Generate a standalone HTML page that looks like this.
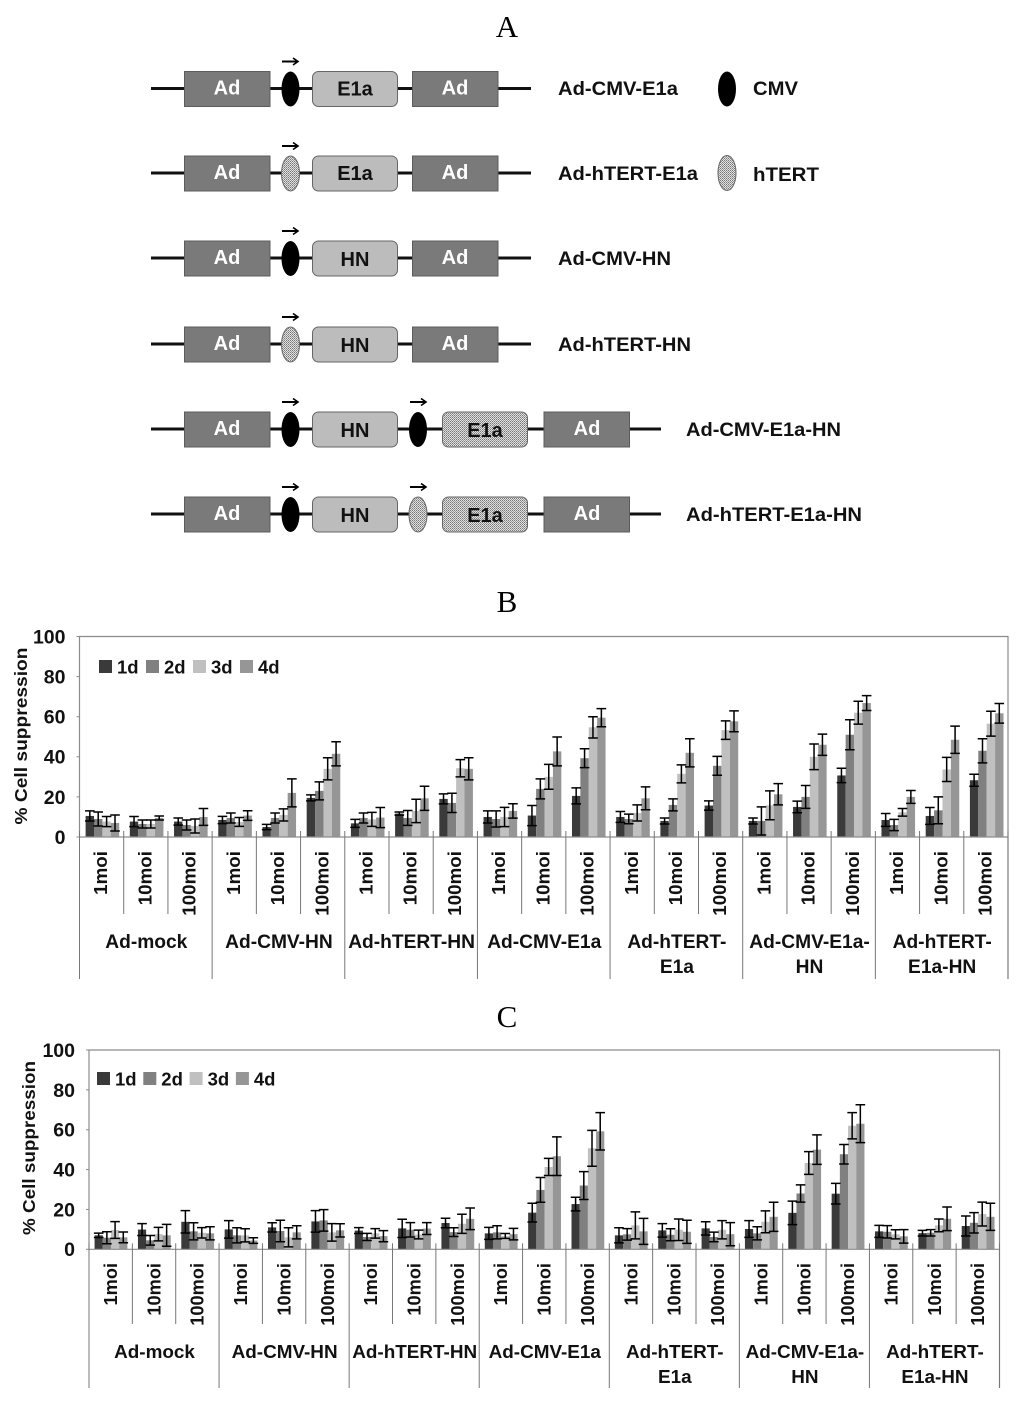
<!DOCTYPE html>
<html>
<head>
<meta charset="utf-8">
<title>Adenovirus constructs and cell suppression</title>
<style>
html,body{margin:0;padding:0;background:#fff;}
svg{display:block;filter:blur(0.35px);}
text{font-family:"Liberation Sans",sans-serif;font-weight:bold;fill:#111;}
.panel{font-family:"Liberation Serif",serif;font-weight:normal;font-size:31px;text-anchor:middle;fill:#000;}
.ad{fill:#7a7a7a;stroke:#5c5c5c;stroke-width:1;}
.adt{fill:#fff;font-size:20px;text-anchor:middle;}
.gene{fill:#bcbcbc;stroke:#666;stroke-width:1;}
.stip{fill:url(#stipple);stroke:#666;stroke-width:1;}
.gt{font-size:20px;text-anchor:middle;}
.bb{stroke:#111;stroke-width:3;}
.arr{stroke:#000;stroke-width:2;fill:none;}
.nm{font-size:19px;}
</style>
</head>
<body>
<svg id="fig" xmlns="http://www.w3.org/2000/svg" width="1024" height="1406" viewBox="0 0 1024 1406">
<defs>
<pattern id="stipple" width="2" height="2" patternUnits="userSpaceOnUse">
<rect width="2" height="2" fill="#e0e0e0"/><rect width="1" height="1" fill="#777"/><rect x="1" y="1" width="1" height="1" fill="#999"/>
</pattern>
<marker id="ah" markerUnits="userSpaceOnUse" markerWidth="9" markerHeight="9" refX="6" refY="4" orient="auto"><path d="M1,0.5 L6,4 L1,7.5" fill="none" stroke="#000" stroke-width="1.6"/></marker>
</defs>
<rect width="1024" height="1406" fill="#fff"/>
<text class="panel" x="507" y="37">A</text>
<text class="panel" x="507" y="612">B</text>
<text class="panel" x="507" y="1027">C</text>

<g transform="translate(0,88.5)">
<line class="bb" x1="151" x2="531" y1="0" y2="0"/>
<rect class="ad" x="184.5" y="-17" width="85.5" height="35"/><text class="adt" x="227" y="6">Ad</text>
<line class="arr" x1="282" x2="298" y1="-27" y2="-27" marker-end="url(#ah)"/>
<ellipse cx="290.5" cy="0.5" rx="9" ry="17.5" fill="#000"/>
<rect class="gene" x="312.5" y="-17" width="85" height="35" rx="6"/><text class="gt" x="355" y="7">E1a</text>
<rect class="ad" x="412.5" y="-17" width="85.5" height="35"/><text class="adt" x="455" y="6">Ad</text>
</g>
<text class="nm" x="558" y="95" textLength="120" lengthAdjust="spacingAndGlyphs">Ad-CMV-E1a</text>
<ellipse cx="727" cy="89" rx="9" ry="17.5" fill="#000"/>
<text class="nm" x="753" y="95" textLength="45" lengthAdjust="spacingAndGlyphs">CMV</text>

<g transform="translate(0,173)">
<line class="bb" x1="151" x2="531" y1="0" y2="0"/>
<rect class="ad" x="184.5" y="-17" width="85.5" height="35"/><text class="adt" x="227" y="6">Ad</text>
<line class="arr" x1="282" x2="298" y1="-27" y2="-27" marker-end="url(#ah)"/>
<ellipse class="stip" cx="290.5" cy="0.5" rx="9" ry="17.5"/>
<rect class="gene" x="312.5" y="-17" width="85" height="35" rx="6"/><text class="gt" x="355" y="7">E1a</text>
<rect class="ad" x="412.5" y="-17" width="85.5" height="35"/><text class="adt" x="455" y="6">Ad</text>
</g>
<text class="nm" x="558" y="180" textLength="140" lengthAdjust="spacingAndGlyphs">Ad-hTERT-E1a</text>
<ellipse class="stip" cx="727" cy="173" rx="9" ry="17.5"/>
<text class="nm" x="753" y="181" textLength="66" lengthAdjust="spacingAndGlyphs">hTERT</text>

<g transform="translate(0,258)">
<line class="bb" x1="151" x2="531" y1="0" y2="0"/>
<rect class="ad" x="184.5" y="-17" width="85.5" height="35"/><text class="adt" x="227" y="6">Ad</text>
<line class="arr" x1="282" x2="298" y1="-27" y2="-27" marker-end="url(#ah)"/>
<ellipse cx="290.5" cy="0.5" rx="9" ry="17.5" fill="#000"/>
<rect class="gene" x="312.5" y="-17" width="85" height="35" rx="6"/><text class="gt" x="355" y="8">HN</text>
<rect class="ad" x="412.5" y="-17" width="85.5" height="35"/><text class="adt" x="455" y="6">Ad</text>
</g>
<text class="nm" x="558" y="265" textLength="113" lengthAdjust="spacingAndGlyphs">Ad-CMV-HN</text>

<g transform="translate(0,344)">
<line class="bb" x1="151" x2="531" y1="0" y2="0"/>
<rect class="ad" x="184.5" y="-17" width="85.5" height="35"/><text class="adt" x="227" y="6">Ad</text>
<line class="arr" x1="282" x2="298" y1="-27" y2="-27" marker-end="url(#ah)"/>
<ellipse class="stip" cx="290.5" cy="0.5" rx="9" ry="17.5"/>
<rect class="gene" x="312.5" y="-17" width="85" height="35" rx="6"/><text class="gt" x="355" y="8">HN</text>
<rect class="ad" x="412.5" y="-17" width="85.5" height="35"/><text class="adt" x="455" y="6">Ad</text>
</g>
<text class="nm" x="558" y="351" textLength="133" lengthAdjust="spacingAndGlyphs">Ad-hTERT-HN</text>

<g transform="translate(0,429)">
<line class="bb" x1="151" x2="661" y1="0" y2="0"/>
<rect class="ad" x="184.5" y="-17" width="85.5" height="35"/><text class="adt" x="227" y="6">Ad</text>
<line class="arr" x1="282" x2="298" y1="-27" y2="-27" marker-end="url(#ah)"/>
<ellipse cx="290.5" cy="0.5" rx="9" ry="17.5" fill="#000"/>
<rect class="gene" x="312.5" y="-17" width="85" height="35" rx="6"/><text class="gt" x="355" y="8">HN</text>
<line class="arr" x1="410" x2="426" y1="-27" y2="-27" marker-end="url(#ah)"/>
<ellipse cx="418" cy="0.5" rx="9" ry="17.5" fill="#000"/>
<rect class="stip" x="442.5" y="-17" width="85" height="35" rx="6"/><text class="gt" x="485" y="8">E1a</text>
<rect class="ad" x="544" y="-17" width="85.5" height="35"/><text class="adt" x="587" y="6">Ad</text>
</g>
<text class="nm" x="686" y="436" textLength="155" lengthAdjust="spacingAndGlyphs">Ad-CMV-E1a-HN</text>

<g transform="translate(0,514)">
<line class="bb" x1="151" x2="661" y1="0" y2="0"/>
<rect class="ad" x="184.5" y="-17" width="85.5" height="35"/><text class="adt" x="227" y="6">Ad</text>
<line class="arr" x1="282" x2="298" y1="-27" y2="-27" marker-end="url(#ah)"/>
<ellipse cx="290.5" cy="0.5" rx="9" ry="17.5" fill="#000"/>
<rect class="gene" x="312.5" y="-17" width="85" height="35" rx="6"/><text class="gt" x="355" y="8">HN</text>
<line class="arr" x1="410" x2="426" y1="-27" y2="-27" marker-end="url(#ah)"/>
<ellipse class="stip" cx="418" cy="0.5" rx="9" ry="17.5"/>
<rect class="stip" x="442.5" y="-17" width="85" height="35" rx="6"/><text class="gt" x="485" y="8">E1a</text>
<rect class="ad" x="544" y="-17" width="85.5" height="35"/><text class="adt" x="587" y="6">Ad</text>
</g>
<text class="nm" x="686" y="521" textLength="176" lengthAdjust="spacingAndGlyphs">Ad-hTERT-E1a-HN</text>
</svg>

<script>
// ---- Shared categories and labels ----
const seriesNames = ['1d', '2d', '3d', '4d'];
const moiLabels = ['1moi', '10moi', '100moi'];
const groupNames = [['Ad-mock'], ['Ad-CMV-HN'], ['Ad-hTERT-HN'], ['Ad-CMV-E1a'], ['Ad-hTERT-', 'E1a'], ['Ad-CMV-E1a-', 'HN'], ['Ad-hTERT-', 'E1a-HN']];
const yTicks = [0, 20, 40, 60, 80, 100];

// ---- Chart B values ----
const b1d = [10.5,7.7,7.7, 8.5,5,19.5, 6.8,11.7,19, 10,10.7,20.5, 10,8,15.7, 8,15,30.7, 8.5,10.5,28.3];
const b2d = [9,6.5,6, 9.5,9.5,23, 9.5,9.5,17, 9,24,39.3, 9,16,35.5, 8,20,51, 6,13.3,43];
const b3d = [7.7,6.5,5.5, 7.5,11,34, 8.8,13,34.3, 10,30,54.7, 12,31.5,53.3, 15.8,40,62, 12.3,33.7,56.5];
const b4d = [7,9.5,10, 10.7,22,41.5, 9.7,19.3,34, 13,42.7,59.5, 19.3,42,57.7, 21.3,46,66.8, 20,48.5,61.7];
const b1dErr = [2.5,2.5,1.8, 1.8,1.3,1.5, 2,0.8,2.5, 3,5,4, 2.7,1.5,2.3, 1.5,2.9,3.6, 3.2,4.2,3];
const b2dErr = [3.5,2,2.5, 2.5,2.5,4.5, 2.5,3.7,4.8, 4,5,4.7, 2.4,3,4.7, 7,5.7,7.5, 2.8,6.7,6];
const b3dErr = [2.5,2,3.5, 2.2,3,5.5, 3.5,5.8,4.3, 4.8,6.2,5.3, 4,4.5,4.6, 7.2,6.4,5.7, 1.9,6,6.2];
const b4dErr = [4,1,4.2, 2.4,7,6, 5,6,5.5, 3.6,7.2,4.5, 5.7,7,5.2, 5.3,5.3,3.7, 3.2,6.8,4.9];

// ---- Chart C values ----
const c1d = [7,9.9,13.8, 10,11,14, 9.4,10.5,13.2, 8,18.4,22.7, 7,9.5,10.5, 10.2,18.3,27.9, 9,8.1,11.7];
const c2d = [5.8,4.5,9, 7,9.2,14.5, 6.2,9.8,8.6, 8.5,29.8,32, 7.5,7.3,6.2, 8,28,47.7, 8.8,8.3,13.3];
const c3d = [9.7,7.6,8.3, 7,6,8.5, 8,7.4,12.8, 6.7,41.3,50.7, 12,9.8,9.8, 13.8,43.3,62, 7.5,12,17.7];
const c4d = [6,7,8, 4.4,8.5,9.5, 6.6,10.4,15.3, 7.6,46.7,59.2, 9,8.8,7.6, 16.3,50,63, 6.5,15.3,16.3];
const c1dErr = [1.1,3,5.6, 4.4,2.3,5.4, 1.5,4.6,2.4, 3,4.7,3.4, 3.8,3.4,3.3, 4.2,5.9,5.2, 3,1.4,5];
const c2dErr = [3,2.4,4.3, 3.8,5.4,5.4, 1.8,3.6,2.2, 3.3,6.2,7, 2.9,3,2.4, 3.3,4.3,4.9, 3.1,1.6,5.1];
const c3dErr = [4.2,3.4,2.6, 3.3,4.8,4.4, 2.4,2.2,4.8, 1.2,4.3,9, 6.8,5.4,4.6, 5.5,5.7,6.6, 2.3,3.2,6];
const c4dErr = [2.7,5.5,3.3, 1.4,3.3,3.3, 2.8,3,5.4, 2.9,9.7,9.4, 6.5,5.8,5.8, 7.3,7.4,9.5, 3.4,5.9,6.8];

const barColors = ['#3a3a3a', '#808080', '#c0c0c0', '#969696'];
const NS = 'http://www.w3.org/2000/svg';
const fig = document.getElementById('fig');

function mk(parent, tag, props, txt) {
  const e = document.createElementNS(NS, tag);
  for (const k in props) e.setAttribute(k, props[k]);
  if (txt !== undefined) e.textContent = txt;
  parent.appendChild(e);
  return e;
}

function drawChart(cfg, values, errors) {
  const g = mk(fig, 'g', {});
  
  
  const n = values[0].length;
  const catW = (cfg.right - cfg.left) / n;
  const yPos = v => cfg.base - (v / 100) * (cfg.base - cfg.top);
  const xCat = i => cfg.left + i * catW;
  const xBar = (i, s) => xCat(i) + catW / 2 + cfg.shift + (s - 2) * cfg.barW;
  const gray = '#8c8c8c';

  // frame
  const frame = mk(g, 'path', {d: 'M' + cfg.left + ' ' + cfg.base + 'V' + cfg.top + 'H' + cfg.right + 'V' + cfg.groupBottom, fill: 'none', stroke: gray, 'stroke-width': 1.2});
  
  

  // y axis ticks and labels
  yTicks.forEach(t => {
    const y = yPos(t);
    const tk = mk(g, 'line', {x1: cfg.left - 3, x2: cfg.left, y1: y, y2: y, stroke: gray, 'stroke-width': 1});
    
    
    const lb = mk(g, 'text', {x: cfg.left - 14, y: y + 6.9, 'text-anchor': 'end', 'font-size': cfg.tickFont}, t);
    
    
  });

  // y title
  const yt = mk(g, 'text', {transform: 'translate(' + cfg.titleX + ',' + cfg.titleY + ') rotate(-90)', 'text-anchor': 'middle', 'font-size': 17.5, textLength: cfg.titleLen, lengthAdjust: 'spacingAndGlyphs'}, '% Cell suppression');
  
  

  // bars
  for (let s = 0; s < values.length; s++) {
    for (let i = 0; i < n; i++) {
      const v = values[s][i];
      const bar = mk(g, 'rect', {x: xBar(i, s), y: yPos(v), width: cfg.barW, height: cfg.base - yPos(v), fill: barColors[s]});
      
      
    }
  }
  // error bars
  for (let s = 0; s < values.length; s++) {
    for (let i = 0; i < n; i++) {
      const v = values[s][i];
      const e = errors[s][i];
      const cx = xBar(i, s) + cfg.barW / 2;
      const y1 = yPos(v + e);
      const y2 = yPos(v - e);
      const eb = mk(g, 'path', {d: 'M' + cx + ' ' + y1 + 'V' + y2 + 'M' + (cx - 4.8) + ' ' + y1 + 'H' + (cx + 4.8) + 'M' + (cx - 4.8) + ' ' + y2 + 'H' + (cx + 4.8), fill: 'none', stroke: '#000', 'stroke-width': 1.5});
      
      
    }
  }

  // baseline
  const bl = mk(g, 'line', {x1: cfg.left, x2: cfg.right, y1: cfg.base, y2: cfg.base, stroke: gray, 'stroke-width': 1.2});
  
  

  // separators and moi labels
  for (let i = 0; i <= n; i++) {
    const x = xCat(i);
    const isGroup = i % 3 === 0;
    const sep = mk(g, 'line', {x1: x, x2: x, y1: cfg.base - 6, y2: isGroup ? cfg.groupBottom : cfg.subBottom, stroke: '#777', 'stroke-width': 1});
    
    
    if (i < n) {
      const cx = x + catW / 2 + 6.3 - cfg.moiShift;
      const ml = mk(g, 'text', {transform: 'translate(' + cx + ',' + cfg.moiTop + ') rotate(-90)', 'text-anchor': 'end', 'font-size': cfg.moiFont}, moiLabels[i % 3]);
      
      
    }
  }

  // group labels
  groupNames.forEach((lines, gi) => {
    const cx = cfg.left + (gi + 0.5) * 3 * catW + 0.5;
    lines.forEach((line, li) => {
      const t = mk(g, 'text', {x: cx, y: cfg.groupY + li * cfg.groupLine, 'text-anchor': 'middle', 'font-size': cfg.groupFont}, line);
      
      
    });
  });

  // legend
  seriesNames.forEach((name, s) => {
    const sw = mk(g, 'rect', {x: cfg.legendX + s * cfg.legendStep, y: cfg.legendY, width: 13, height: 13, fill: barColors[s]});
    
    
    const lt = mk(g, 'text', {x: cfg.legendX + s * cfg.legendStep + 18, y: cfg.legendY + 13.5, 'font-size': 18.5}, name);
    
    
  });
}

drawChart({
  name: 'chart-b', left: 79.5, right: 1008, top: 636.5, base: 837, barW: 8.4, shift: 0.8,
  groupBottom: 979, subBottom: 914, tickFont: 19.5, titleX: 27, titleY: 736, titleLen: 177,
  moiTop: 851, moiShift: 0.7, moiFont: 18.8, groupY: 948, groupLine: 25, groupFont: 19.2,
  legendX: 99, legendY: 660, legendStep: 47
}, [b1d, b2d, b3d, b4d], [b1dErr, b2dErr, b3dErr, b4dErr]);

drawChart({
  name: 'chart-c', left: 89, right: 999.5, top: 1050, base: 1249.3, barW: 8.2, shift: 0.3,
  groupBottom: 1388, subBottom: 1324, tickFont: 19.5, titleX: 35, titleY: 1148, titleLen: 174,
  moiTop: 1263, moiShift: 0, moiFont: 18.2, groupY: 1358, groupLine: 25, groupFont: 18.9,
  legendX: 97, legendY: 1072, legendStep: 46.3
}, [c1d, c2d, c3d, c4d], [c1dErr, c2dErr, c3dErr, c4dErr]);
</script>
</body>
</html>
